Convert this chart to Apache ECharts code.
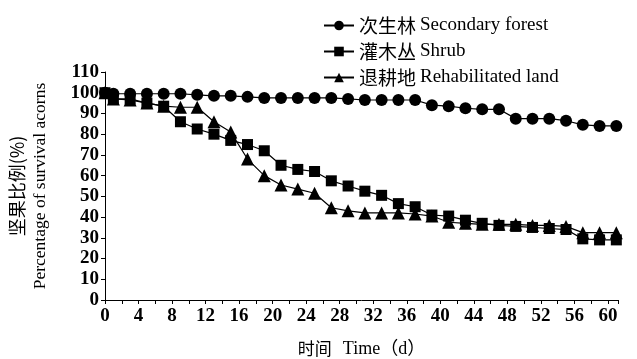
<!DOCTYPE html>
<html>
<head>
<meta charset="utf-8">
<script src="https://cdn.jsdelivr.net/npm/echarts@6/dist/echarts.min.js"></script>
<style>
html,body{margin:0;padding:0;background:#fff;}
#c{width:637px;height:359px;}
</style>
</head>
<body>
<div id="c"></div>
<script>
var days = [0,1,3,5,7,9,11,13,15,17,19,21,23,25,27,29,31,33,35,37,39,41,43,45,47,49,51,53,55,57,59,61];
var secondaryForest = [100,99.5,99.5,99.5,99.5,99.5,99,98.5,98.5,98,97.5,97.5,97.5,97.5,97.5,97,96.5,96.5,96.5,96.5,94,93.5,92.5,92,92,87.5,87.5,87.5,86.5,84.5,84,84];
var shrub = [100,97,97,95,93.5,86,82.5,80,77,75,72,65,63,62,57.5,55,52.5,50.5,46.5,45,41,40.5,38.5,37,36,35.5,35,34.5,34,29.5,29,29];
var rehabLand = [100,97,96.5,95,93.5,93,93,86,81,68,60,55.5,53.5,51.5,44.5,43,42,42,42,41.5,40.5,37.5,37,36.5,36.5,36.5,36,36,35.5,32.5,32.5,32.5];
var seriesCn = ['次生林','灌木丛','退耕地'];
var seriesEn = ['Secondary forest','Shrub','Rehabilitated land'];
var seriesNames = seriesCn.map(function(c,i){ return c + ' ' + seriesEn[i]; });
var yTicks = [0,10,20,30,40,50,60,70,80,90,100,110];
var xLabelStep = 4;

function pairs(vals){ return days.map(function(d,i){ return [d, vals[i]]; }); }
var FONT = '"Liberation Serif", "Noto Sans CJK SC", serif';
var CJK = '"Noto Sans CJK SC", serif';

var chart = echarts.init(document.getElementById('c'), null, {renderer:'canvas'});
var lineStyle = {color:'#000', width:1.2};
chart.setOption({
  animation:false,
  backgroundColor:'#fff',
  textStyle:{fontFamily:FONT, color:'#000'},
  grid:{left:105, right:19, top:72, bottom:59, containLabel:false, outerBoundsMode:'none'},
  legend:{
    orient:'vertical', left:318, top:11, itemWidth:30, itemHeight:12, itemGap:7,
    textStyle:{fontFamily:FONT, fontSize:18, color:'#000',
      rich:{
        cn:{fontFamily:CJK, fontSize:19, color:'#000'},
        en:{fontFamily:'"Liberation Serif", serif', fontSize:19, color:'#000', padding:[0,0,0,4]}
      }},
    formatter:function(name){
      var i = seriesNames.indexOf(name);
      return '{cn|' + seriesCn[i] + '}{en|' + seriesEn[i] + '}';
    },
    data:seriesNames
  },
  xAxis:{
    type:'value', min:0, max:61.2, interval:2,
    name:'{cn|时间}{en|Time（d）}', nameLocation:'middle', nameGap:40,
    nameTextStyle:{fontFamily:FONT, fontSize:18, color:'#000',
      rich:{
        cn:{fontFamily:CJK, fontSize:17, color:'#000', padding:[0,11,0,0]},
        en:{fontFamily:FONT, fontSize:18, color:'#000'}
      }},
    axisLine:{lineStyle:{color:'#000', width:1}},
    axisTick:{show:true, inside:false, length:4, lineStyle:{color:'#000'}},
    axisLabel:{fontFamily:FONT, fontSize:19, fontWeight:'bold', color:'#000', margin:7,
      formatter:function(v){ return (v % xLabelStep === 0 && v <= 60) ? String(v) : ''; }},
    splitLine:{show:false}
  },
  yAxis:{
    type:'value', min:yTicks[0], max:yTicks[yTicks.length-1], interval:10,
    name:'{cn|坚果比例(%)}\n{en|Percentage of survival acorns}', nameLocation:'middle', nameGap:53, nameRotate:90,
    nameTextStyle:{fontFamily:FONT, fontSize:17, color:'#000', lineHeight:23,
      rich:{
        cn:{fontFamily:CJK, fontSize:18, color:'#000', lineHeight:23},
        en:{fontFamily:FONT, fontSize:17.5, color:'#000', lineHeight:23}
      }},
    axisLine:{show:true, lineStyle:{color:'#000', width:1}},
    axisTick:{show:true, inside:false, length:4, lineStyle:{color:'#000'}},
    axisLabel:{fontFamily:FONT, fontSize:19, fontWeight:'bold', color:'#000', margin:6},
    splitLine:{show:false}
  },
  series:[
    {name:seriesNames[0], type:'line', data:pairs(secondaryForest), symbol:'circle', symbolSize:12,
     itemStyle:{color:'#000'}, lineStyle:lineStyle, z:3},
    {name:seriesNames[1], type:'line', data:pairs(shrub), symbol:'rect', symbolSize:11,
     itemStyle:{color:'#000'}, lineStyle:lineStyle, z:2},
    {name:seriesNames[2], type:'line', data:pairs(rehabLand), symbol:'triangle', symbolSize:13,
     itemStyle:{color:'#000'}, lineStyle:lineStyle, z:1}
  ]
});
</script>
</body>
</html>
